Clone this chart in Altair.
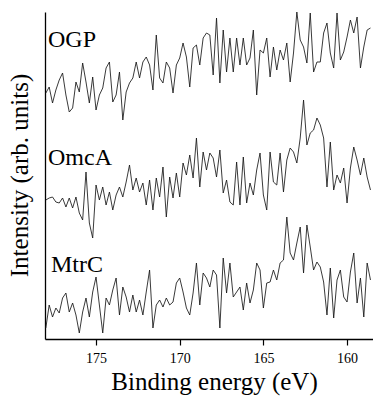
import altair as alt
import pandas as pd

# Energy grid (eV), 0.2 eV step, 178.0 -> 158.6
energies = [round(178.0 - 0.2 * i, 1) for i in range(98)]

ogp = [246, 252, 236, 249, 259, 266, 244, 227, 231, 257, 247, 276, 257, 236, 262, 229, 244, 251, 271, 277,
       237, 244, 267, 219, 247, 256, 261, 277, 261, 277, 282, 274, 249, 304, 261, 256, 277, 271, 246, 274,
       281, 296, 282, 252, 291, 294, 274, 301, 306, 304,
       264, 321, 256, 309, 267, 301, 267, 301, 274, 301, 274, 281, 309, 244, 289, 286, 301, 262, 292, 269,
       289, 279, 296, 257, 286, 327, 299, 292, 276, 326, 267, 277, 277, 306, 316, 286, 271, 326, 279, 287,
       302, 319, 306, 322, 271, 292, 309, 311]

omca = [139, 141, 142, 137, 136, 141, 132, 141, 131, 142, 126, 119, 167, 116, 101, 154, 139, 152, 134, 147,
        129, 144, 152, 142, 157, 174, 149, 161, 147, 156, 134, 159, 129, 161, 142, 172, 122, 162, 141, 166,
        142, 176, 164, 184, 161, 201, 152, 187, 169, 186,
        181, 162, 189, 146, 159, 137, 134, 177, 134, 182, 136, 156, 144, 169, 186, 144, 129, 187, 157, 154,
        186, 147, 179, 191, 187, 176, 201, 239, 194, 206, 209, 221, 214, 201, 152, 197, 149, 164, 156, 171,
        136, 171, 192, 179, 164, 181, 162, 149]

mtrc = [11, 34, 22, 31, 26, 41, 46, 27, 36, 24, 6, 27, 41, 22, 47, 62, 34, 6, 41, 34,
        49, 61, 24, 52, 42, 27, 44, 27, 39, 24, 47, 69, 11, 34, 39, 32, 41, 34, 37, 56,
        61, 47, 31, 24, 46, 76, 34, 66, 61, 52,
        69, 64, 11, 81, 46, 76, 42, 47, 52, 29, 56, 36, 49, 76, 69, 31, 56, 57, 69, 59,
        76, 79, 122, 86, 79, 96, 112, 66, 114, 92, 69, 77, 72, 57, 24, 71, 21, 59, 69, 42,
        37, 67, 86, 36, 61, 22, 76, 59]

label_names = ["OGP", "OmcA", "MtrC"]
label_x = [177.87, 177.87, 177.69]
label_y = [292, 174, 67]

x_ticks = [175, 170, 165, 160]

rows = []
for name, vals in zip(label_names, [ogp, omca, mtrc]):
    for e, v in zip(energies, vals):
        rows.append({"series": name, "energy": e, "intensity": v})
df = pd.DataFrame(rows)
labels = pd.DataFrame({"name": label_names, "x": label_x, "y": label_y})

FONT = "Liberation Serif"
xscale = alt.Scale(domain=[178.05, 158.45], nice=False, zero=False)
yscale = alt.Scale(domain=[0, 327], nice=False, zero=False)

lines = alt.Chart(df).mark_line(color="#161616", strokeWidth=0.85).encode(
    x=alt.X("energy:Q", scale=xscale,
            axis=alt.Axis(title="Binding energy (eV)", values=x_ticks, grid=False,
                          tickSize=6, tickColor="black", domainColor="black",
                          domainWidth=1.3, tickWidth=1.2,
                          labelFont=FONT, labelFontSize=14, labelColor="black",
                          labelPadding=6, labelFlush=False,
                          titleFont=FONT, titleFontSize=25, titleFontWeight="normal",
                          titleColor="black", titleBaseline="alphabetic",
                          titleY=50, titleX=169)),
    y=alt.Y("intensity:Q", scale=yscale,
            axis=alt.Axis(title="Intensity (arb. units)", ticks=False, labels=False,
                          grid=False, domainColor="black", domainWidth=1.3,
                          titleFont=FONT, titleFontSize=25, titleFontWeight="normal",
                          titleColor="black", titleBaseline="alphabetic",
                          titleX=-18, titleY=163)),
    detail="series:N",
)

texts = alt.Chart(labels).mark_text(
    font=FONT, fontSize=24, align="left", baseline="alphabetic", color="black"
).encode(
    x=alt.X("x:Q", scale=xscale),
    y=alt.Y("y:Q", scale=yscale),
    text="name:N",
)

chart = alt.layer(lines, texts).properties(
    width=328, height=327,
    autosize=alt.AutoSizeParams(type="none"),
    padding={"left": 45, "top": 12, "right": 0, "bottom": 58},
).configure_view(stroke=None)

chart.save("out.html", embed_options={"renderer": "svg", "actions": False})
